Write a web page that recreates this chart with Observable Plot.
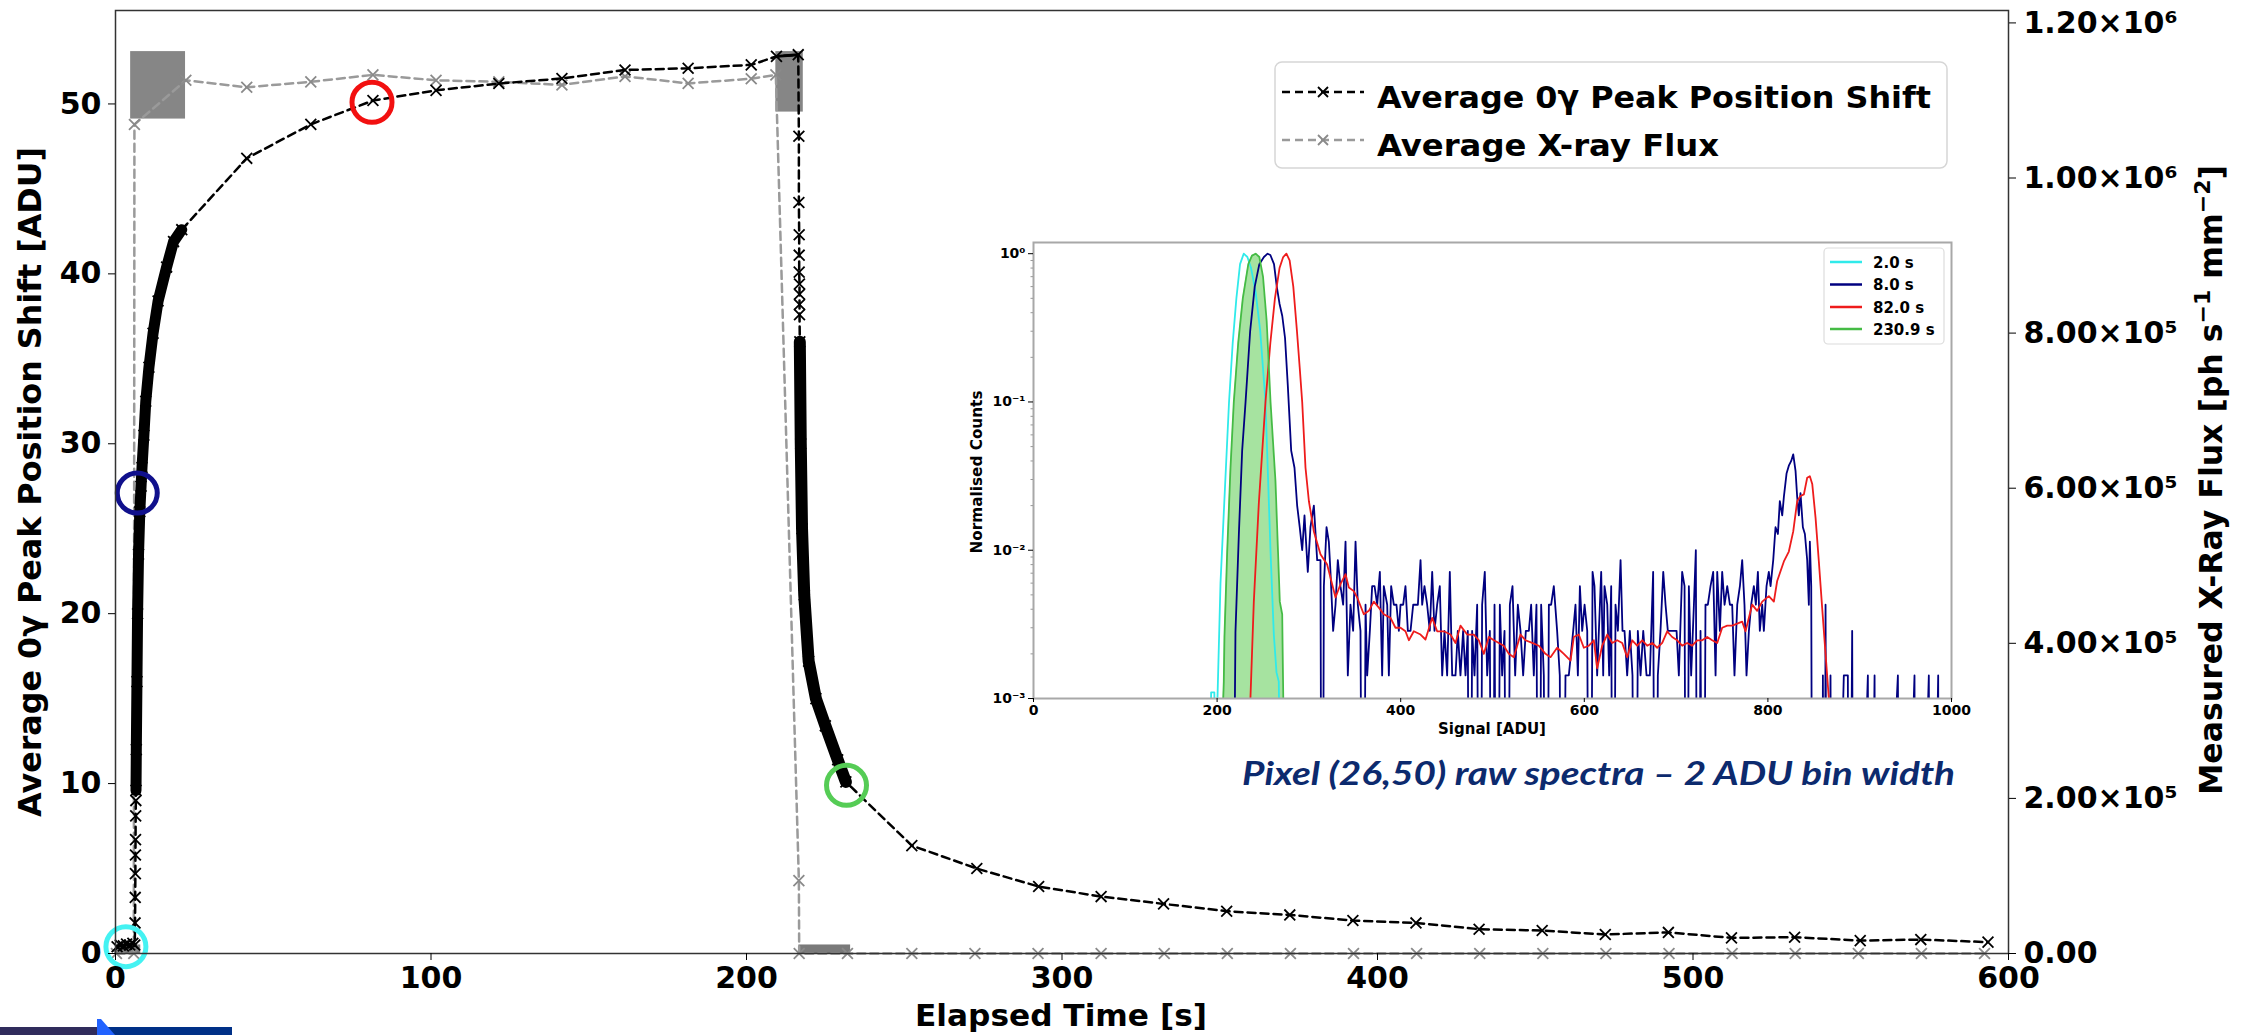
<!DOCTYPE html>
<html><head><meta charset="utf-8">
<script src="https://cdn.jsdelivr.net/npm/d3@7"></script>
<script src="https://cdn.jsdelivr.net/npm/@observablehq/plot@0.6"></script>
<style>
body{margin:0;background:#fff;}
#page{position:relative;width:2247px;height:1035px;overflow:hidden;background:#fff;}
</style></head><body><div id="page"></div>
<script>
// ---------------- Main chart data ----------------
const xTicks = [0, 100, 200, 300, 400, 500, 600];
const leftTicks = [0, 10, 20, 30, 40, 50];
const rightTickFlux = [0, 2e5, 4e5, 6e5, 8e5, 1e6, 1.2e6];
const rightTickLabels = ["0.00", "2.00×10⁵", "4.00×10⁵", "6.00×10⁵", "8.00×10⁵", "1.00×10⁶", "1.20×10⁶"];

// Average 0γ peak position shift [ADU] vs elapsed time [s]
const shiftT = [0.5,1.5,2.5,3.5,4.5,5.5,6.1,
  6.2,6.25,6.3,6.32,6.35,6.4,6.45,
  6.5,6.6,6.8,7.0,7.3,7.7,8.1,8.4,9.0,9.6,10.6,11.9,13.5,16.2,18.4,21.0,
  41.6,61.9,81.6,101.6,121.5,141.5,161.5,181.5,201.5,
  209.5,216.4,
  216.6,216.6,216.7,216.7,216.7,216.8,216.8,216.8,216.8,
  216.9,217.2,217.6,218.3,219.7,222,225,228.9,231.5,
  252.4,273,292.6,312.4,332.2,352.2,372.2,392.2,412.2,432.2,452.2,472.2,492.2,512.2,532.2,553,572.2,593.5];
const shiftVal = [0.4,0.5,0.45,0.55,0.5,0.6,0.5,
  1.8,3.3,4.7,5.8,6.7,8.1,9.0,
  9.6,12,16,20,23.5,26,27.5,28.6,30.5,32.5,34.5,36.5,38.4,40.4,41.9,42.6,
  46.8,48.8,50.2,50.8,51.2,51.5,52.0,52.1,52.3,
  52.8,52.9,
  48.1,44.2,42.3,41.1,40.1,39.4,38.8,38.2,37.6,
  36,30,25,21.1,17.2,15,13.4,11.4,10.1,
  6.35,5.0,3.94,3.35,2.92,2.49,2.27,1.94,1.80,1.43,1.35,1.12,1.24,0.92,0.96,0.76,0.82,0.67];

// Average X-ray flux [ph s^-1 mm^-2]
const fluxT = [0.3,5.8,6.0,22.3,41.6,61.9,81.6,101.6,121.5,141.5,161.5,181.5,201.5,209.3,216.6,216.7,
  232,252.4,272.4,292.4,312.4,332.4,352.4,372.4,392.4,412.4,432.4,452.4,472.4,492.4,512.4,532.4,552.4,572.4,592.4];
const fluxVal = [0,0,1.069e6,1.126e6,1.117e6,1.124e6,1.133e6,1.126e6,1.124e6,1.120e6,1.131e6,1.122e6,1.128e6,1.133e6,0.094e6,0,
  0,0,0,0,0,0,0,0,0,0,0,0,0,0,0,0,0,0,0];
// high-rate (noisy) flux sampling blocks: time span and flux range
const fluxBlockT0 = [4.8, 209.3];
const fluxBlockT1 = [22.2, 218.0];
const fluxBlockLo = [1.076e6, 1.085e6];
const fluxBlockHi = [1.163e6, 1.163e6];
const fluxZeroT0 = [0.3, 216.6];
const fluxZeroT1 = [8.0, 233.0];
const fluxZeroHi = [1.1e4, 1.1e4];

// highlighted spectra times (circles)
const circleT = [3.3, 6.9, 81.3, 231.7];
const circleVal = [0.4, 27.1, 50.1, 9.9];
const circleColor = ["#44f2f2", "#10108c", "#f21010", "#55cc55"];

// ---------------- Inset data (normalised counts vs signal ADU) ----------------
const insetXTicks = [0, 200, 400, 600, 800, 1000];
const insetYTicks = [1e-3, 1e-2, 1e-1, 1];
const insetYLabels = ["10⁻³", "10⁻²", "10⁻¹", "10⁰"];
const insetMinor = [0.002,0.003,0.004,0.005,0.006,0.007,0.008,0.009,0.02,0.03,0.04,0.05,0.06,0.07,0.08,0.09,0.2,0.3,0.4,0.5,0.6,0.7,0.8,0.9];

const cyanAdu = [193,193.5,197,197.5,200,203.7,209,213,217,221,225,229,233,237,242,247,252.7,258.2,261.8,264.7,267.2,268];
const cyanVal = [0.0005,0.0011,0.0011,0.0005,0.0008,0.006,0.03,0.1,0.25,0.5,0.85,1.0,0.95,0.8,0.55,0.3,0.1,0.0098,0.0027,0.0015,0.0013,0.0005];

const greenAdu = [205,207.3,208,211,214.6,218.2,223,228,234,238,242,246,250,254,258.2,263.6,268.3,270.9,272.7];
const greenVal = [0.0005,0.0013,0.0026,0.0098,0.036,0.1,0.25,0.5,0.85,0.97,1.0,0.95,0.7,0.35,0.1,0.029,0.0045,0.0037,0.0005];

const navyPeakAdu = [219,220,223.7,227.3,231,236,241,246,251,255,258,262,265,268,271,274,277,280.7,284.3];
const navyPeakVal = [0.0005,0.0028,0.0128,0.047,0.1,0.3,0.6,0.85,0.95,1.0,0.98,0.85,0.6,0.46,0.38,0.27,0.13,0.047,0.036];
const navyCountNorm = 0.00143; // one count, normalised
const navyTailAdu = [287.2,290,292.7,295.2,298.8,301.7,305.4,309,312.6,314.4,316.3,319.2,321.7,323.5,326.4,329,331.5,334.4,337.3,339.9,
  342.4,345.3,348.2,350.8,353.3,356.2,359.1,361.7,363.5,366.4,368.9,371.5,374.4,377.3,379.8,381.6,385.3,387.1,389.6,392.5,
  395.4,398,399.8,402.7,405.2,407.8,410.7,413.6,416.1,418.7,421.6,423.4,425.9,428.8,431.7,434.3,436.8,439.7,442.6,445.2,
  447.7,450.6,453.5,456.1,459.7,462.2,465.1,468,470.6,473.1,475.3,477.8,480.4,483.3,486.2,488.7,491.6,494.2,497.1,499.6,
  502.2,505.1,508,510.5,513.1,516,518.9,521.8,524.7,527.6,530.5,533.4,536.3,539.6,542.1,545,547.9,550.5,553,555.9,
  558.8,561.4,563.9,566.8,570.4,573.3,575.9,579.5,583.1,587.9,590.4,593,595.2,597.7,600.3,603.2,606.1,609,611.1,614,
  617,618.4,620.6,622,625,627.1,629.3,631.5,634,636.6,639.5,641.6,643.8,646.7,649.6,652.5,655.8,658.3,661.3,664.2,
  667.8,671.4,675,677.6,680.1,683,686,688.5,691,694,697.6,700.5,703,706.6,709.2,711.4,713.9,716.4,719.4,721.5,
  723.7,726.6,729.5,732,734.6,737.5,740.4,743,744.8,747.7,750.2,752.8,755.7,758.6,761.1,763.6,766.6,769.5,772,774.5,
  776.7,779.3,781.8,784.7,786.9,789.1,791.2,793.8,795.6,798.5,801,802.9,805.8,808.3,810.9,813,815.6,817.4,820.3,822.8,
  825.4,827.6,830.1,831.9,833.7,835.5,838.1,840.3,842.8,844.6,845.7,847.2,849,859.1,859.9,861.7,862.8,864.6,868.2,870,
  882.7,887.1,888.2,891.8,893.6,908.9,910.3,916.2,917.6,941.6,943.8,959.7,960.8,975.3,977.2,985.5,986.6];
const navyTailCounts = [14,10,7,12,5,10,14,6,6,0,4,10,8,5,2,3,6,4,3,8,
  1,3,2,8,3,2,0,3,1,2,4,4,3,5,1,4,3,1,4,3,
  3,2,3,3,4,2,2,3,3,3,6,3,4,3,2,5,2,3,4,1,
  2,1,5,1,1,2,1,2,1,2,0,2,1,3,0,3,5,1,2,0,
  3,0,3,1,2,0,3,4,1,3,2,1,2,2,3,1,3,0,3,1,
  0,3,3,4,2,1,0,1,1,2,3,1,4,2,3,2,0,5,4,1,
  3,5,1,4,3,1,4,0,3,2,6,2,2,1,2,1,0,2,1,2,
  1,1,5,0,1,2,5,3,2,2,2,2,1,5,4,0,4,1,3,7,
  0,2,0,3,3,4,5,1,5,2,5,3,4,3,3,1,3,4,6,3,
  1,2,3,4,3,5,2,3,2,4,5,4,6,10,9,15,12,16,23,26,
  28,31,24,16,12,17,10,9,6,3,8,4,0,0,1,0,3,0,1,0,
  1,1,0,2,0,1,0,1,0,1,0,1,0,1,0,1,0];

const redAdu = [234.6,240,245.5,252.7,258,263,268,272,275.5,279,283,287,290,292.7,296.3,300,305.4,312.6,319.9,329,
  334.4,339.9,343.5,348.9,352.6,359.8,365.3,370.7,376.2,381.6,388.9,394.3,399.8,405.2,408.9,414.3,421.6,427,434.3,439.7,
  447,454.2,459.7,465.1,472.4,479.7,485.1,490.6,496,501.5,506.9,512.3,517.8,523.2,530.5,535.9,543.2,550.5,557.7,563.2,
  570.4,577.7,585,588.6,594,599.5,605,610.4,614,619.5,625,630.4,635.8,641.3,646.7,652.2,657.6,663.1,668.5,674,
  679.4,684.9,690.3,695.7,701.2,706.6,712.1,717.5,723,728.4,733.9,739.3,744.8,750.2,755.7,761.1,766.6,772,775.6,782.9,
  788.3,793.8,801,806.5,810.1,817.4,822.8,827.6,831.9,835.5,839.2,842.8,845.7,848.3,851.9,855.5,859.1,862.8,866.4,868.2];
const redVal = [0.0005,0.0045,0.021,0.1,0.25,0.5,0.8,0.95,1.0,0.9,0.6,0.3,0.17,0.1,0.036,0.0214,0.0134,0.0094,0.008,0.0048,
  0.0059,0.0069,0.0056,0.0053,0.0048,0.0037,0.0039,0.0045,0.0041,0.0037,0.0035,0.003,0.003,0.00284,0.00247,0.00284,0.0027,0.0025,0.0035,0.00284,
  0.00284,0.0027,0.00237,0.0031,0.0027,0.0027,0.00247,0.002,0.0026,0.00247,0.00237,0.00227,0.002,0.0019,0.0027,0.00247,0.00237,0.00227,0.002,0.0019,
  0.0022,0.002,0.0018,0.0026,0.0027,0.0022,0.00227,0.00247,0.0016,0.00227,0.0027,0.00237,0.00247,0.00237,0.0019,0.00247,0.00227,0.00247,0.00227,0.00237,
  0.0022,0.00237,0.00284,0.0026,0.00247,0.00227,0.00237,0.00227,0.00247,0.00247,0.0026,0.00247,0.00237,0.003,0.0031,0.0031,0.0032,0.0033,0.00284,0.0043,
  0.0039,0.0045,0.0049,0.0045,0.0062,0.0084,0.0098,0.0134,0.0214,0.0232,0.0238,0.0308,0.0316,0.028,0.0166,0.0084,0.0041,0.002,0.001,0.0007];

// ---------------- Build main chart ----------------
const W = 2247, H = 1035;
const yMax = 55.5, fluxMax = 1.216e6, k = yMax / fluxMax;
const shiftData = shiftT.map((t, i) => ({t, y: shiftVal[i]}));
const fluxData = fluxT.map((t, i) => ({t, y: fluxVal[i] * k}));
const blockData = fluxBlockT0.map((t0, i) => ({t0, t1: fluxBlockT1[i], lo: fluxBlockLo[i] * k, hi: fluxBlockHi[i] * k}));
const zeroData = fluxZeroT0.map((t0, i) => ({t0, t1: fluxZeroT1[i], hi: fluxZeroHi[i] * k}));
const circleData = circleT.map((t, i) => ({t, y: circleVal[i], c: circleColor[i]}));
const rightTickPos = rightTickFlux.map(f => f * k);
const baseBand = shiftData.filter(d => d.t <= 6.1);
const riseBand = shiftData.filter(d => d.t >= 6.5 && d.t <= 21);
const topBand = shiftData.filter(d => d.t >= 209.5 && d.t <= 216.4);
const decayBand = shiftData.filter(d => d.t >= 216.85 && d.t <= 231.5);

const main = Plot.plot({
  width: W, height: H,
  marginLeft: 115, marginRight: W - 2008, marginTop: 10, marginBottom: H - 953,
  style: {fontFamily: "DejaVu Sans", fontWeight: "bold", fontSize: "30px", background: "#fff", overflow: "visible", color: "#000"},
  x: {domain: [0, 600]},
  y: {domain: [0, yMax]},
  color: {type: "identity"},
  marks: [
    Plot.rect(blockData, {x1: "t0", x2: "t1", y1: "lo", y2: "hi", fill: "#868686"}),
    Plot.rect(zeroData, {x1: "t0", x2: "t1", y1: 0, y2: "hi", fill: "#7a7a7a"}),
    Plot.line(fluxData, {x: "t", y: "y", stroke: "#9a9a9a", strokeWidth: 2.5, strokeDasharray: "8,5"}),
    Plot.dot(fluxData, {x: "t", y: "y", symbol: "times", r: 5, stroke: "#8a8a8a", strokeWidth: 1.8}),
    Plot.line(shiftData, {x: "t", y: "y", stroke: "#000", strokeWidth: 2.5, strokeDasharray: "8,5"}),
    Plot.line(baseBand, {x: "t", y: "y", stroke: "#000", strokeWidth: 4}),
    Plot.line(riseBand, {x: "t", y: "y", stroke: "#000", strokeWidth: 11, strokeLinecap: "round", strokeLinejoin: "round"}),
    Plot.line(topBand, {x: "t", y: "y", stroke: "#000", strokeWidth: 3}),
    Plot.line(decayBand, {x: "t", y: "y", stroke: "#000", strokeWidth: 12, strokeLinecap: "round", strokeLinejoin: "round"}),
    Plot.dot(shiftData, {x: "t", y: "y", symbol: "times", r: 5, stroke: "#000", strokeWidth: 1.8}),
    Plot.dot(circleData, {x: "t", y: "y", r: 20, stroke: "c", strokeWidth: 5, fill: "none"}),
    Plot.frame({stroke: "#333", strokeWidth: 1.5}),
    Plot.axisX(xTicks, {tickSize: 7, tickPadding: 6, fontSize: 30, label: null, tickFormat: d => String(d)}),
    Plot.axisY(leftTicks, {anchor: "left", tickSize: 7, tickPadding: 7, fontSize: 30, label: null, tickFormat: d => String(d)}),
    Plot.axisY(rightTickPos, {anchor: "right", tickSize: 7, tickPadding: 8, fontSize: 30, label: null,
      tickFormat: d => rightTickLabels[rightTickPos.indexOf(d)]})
  ]
});
main.style.position = "absolute"; main.style.left = "0px"; main.style.top = "0px";
document.getElementById("page").append(main);

// ---------------- Inset chart ----------------
const cyanData = cyanAdu.map((x, i) => ({x, v: cyanVal[i]}));
const greenData = greenAdu.map((x, i) => ({x, v: greenVal[i]}));
const navyData = navyPeakAdu.map((x, i) => ({x, v: navyPeakVal[i]}))
  .concat(navyTailAdu.map((x, i) => ({x, v: navyTailCounts[i] > 0 ? navyTailCounts[i] * navyCountNorm : 1e-6})));
const redData = redAdu.map((x, i) => ({x, v: redVal[i]}));

const inset = Plot.plot({
  width: 1020, height: 515,
  marginLeft: 93, marginRight: 9, marginTop: 10, marginBottom: 49,
  style: {fontFamily: "DejaVu Sans", fontWeight: "bold", fontSize: "14px", background: "#fff", overflow: "visible", color: "#000"},
  x: {domain: [0, 1000]},
  y: {type: "log", domain: [1e-3, 1.19]},
  marks: [
    Plot.areaY(greenData, {x: "x", y1: 1e-3, y2: "v", fill: "#a6e3a0", clip: true}),
    Plot.line(cyanData, {x: "x", y: "v", stroke: "#30eaea", strokeWidth: 1.8, clip: true}),
    Plot.line(navyData, {x: "x", y: "v", stroke: "#000080", strokeWidth: 1.8, clip: true}),
    Plot.line(redData, {x: "x", y: "v", stroke: "#ee1c1c", strokeWidth: 1.8, clip: true}),
    Plot.line(greenData, {x: "x", y: "v", stroke: "#45bb45", strokeWidth: 1.8, clip: true}),
    Plot.frame({stroke: "#a8a8a8", strokeWidth: 2}),
    Plot.axisX(insetXTicks, {tickSize: 4, tickPadding: 3, fontSize: 14, label: null, tickFormat: d => String(d)}),
    Plot.axisY(insetYTicks, {anchor: "left", tickSize: 5, tickPadding: 3, fontSize: 14, label: null,
      tickFormat: d => insetYLabels[insetYTicks.indexOf(d)]}),
    Plot.axisY(insetMinor, {anchor: "left", tickSize: 2.5, tickFormat: () => "", label: null, stroke: "#999"})
  ]
});
inset.style.position = "absolute"; inset.style.left = "940px"; inset.style.top = "232px";
document.getElementById("page").append(inset);

// ---------------- Text overlay: titles, legends, caption ----------------
const ov = d3.create("svg").attr("width", W).attr("height", H)
  .style("position", "absolute").style("left", "0px").style("top", "0px")
  .style("font-family", "DejaVu Sans").style("font-weight", "bold");

ov.append("text").attr("transform", "translate(41,482) rotate(-90)").attr("text-anchor", "middle")
  .attr("font-size", 31.5).attr("textLength", 670).attr("lengthAdjust", "spacingAndGlyphs")
  .text("Average 0γ Peak Position Shift [ADU]");
ov.append("text").attr("x", 1061).attr("y", 1026).attr("text-anchor", "middle")
  .attr("font-size", 31).attr("textLength", 292).attr("lengthAdjust", "spacingAndGlyphs")
  .text("Elapsed Time [s]");
const rt = ov.append("text").attr("transform", "translate(2222,480) rotate(-90)").attr("text-anchor", "middle").attr("font-size", 31.5);
rt.append("tspan").text("Measured X-Ray Flux [ph s");
rt.append("tspan").attr("dy", -12).attr("font-size", 22).text("−1");
rt.append("tspan").attr("dy", 12).text(" mm");
rt.append("tspan").attr("dy", -12).attr("font-size", 22).text("−2");
rt.append("tspan").attr("dy", 12).text("]");

// main legend
ov.append("rect").attr("x", 1275).attr("y", 62).attr("width", 672).attr("height", 106).attr("rx", 7)
  .attr("fill", "#fff").attr("fill-opacity", 0.85).attr("stroke", "#d6d6d6").attr("stroke-width", 1.5);
const legendRows = [
  {y: 92, color: "#000", mk: "#000", label: "Average 0γ Peak Position Shift", len: 554},
  {y: 140, color: "#9a9a9a", mk: "#8a8a8a", label: "Average X-ray Flux", len: 342}
];
legendRows.forEach(r => {
  ov.append("line").attr("x1", 1282).attr("x2", 1364).attr("y1", r.y).attr("y2", r.y)
    .attr("stroke", r.color).attr("stroke-width", 2.5).attr("stroke-dasharray", "8,5");
  ov.append("path").attr("d", `M${1323-5},${r.y-5}L${1323+5},${r.y+5}M${1323-5},${r.y+5}L${1323+5},${r.y-5}`)
    .attr("stroke", r.mk).attr("stroke-width", 1.8);
  ov.append("text").attr("x", 1377).attr("y", r.y + 7).attr("font-size", 31).attr("dominant-baseline", "middle")
    .attr("textLength", r.len).attr("lengthAdjust", "spacingAndGlyphs").text(r.label);
});

// inset titles
ov.append("text").attr("transform", "translate(982,472) rotate(-90)").attr("text-anchor", "middle")
  .attr("font-size", 15).attr("textLength", 163).attr("lengthAdjust", "spacingAndGlyphs").text("Normalised Counts");
ov.append("text").attr("x", 1492).attr("y", 734).attr("text-anchor", "middle")
  .attr("font-size", 15).attr("textLength", 108).attr("lengthAdjust", "spacingAndGlyphs").text("Signal [ADU]");

// inset legend
ov.append("rect").attr("x", 1824).attr("y", 248).attr("width", 120).attr("height", 96).attr("rx", 4)
  .attr("fill", "#fff").attr("stroke", "#dcdcdc").attr("stroke-width", 1.2);
const insetLegend = [
  {y: 262, c: "#30eaea", t: "2.0 s"},
  {y: 284.5, c: "#000080", t: "8.0 s"},
  {y: 307, c: "#ee1c1c", t: "82.0 s"},
  {y: 329, c: "#45bb45", t: "230.9 s"}
];
insetLegend.forEach(r => {
  ov.append("line").attr("x1", 1830).attr("x2", 1862).attr("y1", r.y).attr("y2", r.y).attr("stroke", r.c).attr("stroke-width", 2.5);
  ov.append("text").attr("x", 1873).attr("y", r.y + 5.5).attr("font-size", 15).text(r.t);
});

// caption
ov.append("text").attr("x", 1242).attr("y", 785).attr("font-family", "Lato, 'Open Sans', sans-serif")
  .attr("font-style", "italic").attr("font-weight", "bold").attr("font-size", 33).attr("fill", "#0c2a6e")
  .attr("textLength", 713).attr("lengthAdjust", "spacingAndGlyphs")
  .text("Pixel (26,50) raw spectra – 2 ADU bin width");

// logo strip at bottom-left
ov.append("rect").attr("x", 0).attr("y", 1027).attr("width", 100).attr("height", 8).attr("fill", "#302c5c");
ov.append("rect").attr("x", 107).attr("y", 1027).attr("width", 125).attr("height", 8).attr("fill", "#003087");
ov.append("path").attr("d", "M97,1019L101,1019L115,1035L97,1035Z").attr("fill", "#2162ff");

document.getElementById("page").append(ov.node());
</script></body></html>
